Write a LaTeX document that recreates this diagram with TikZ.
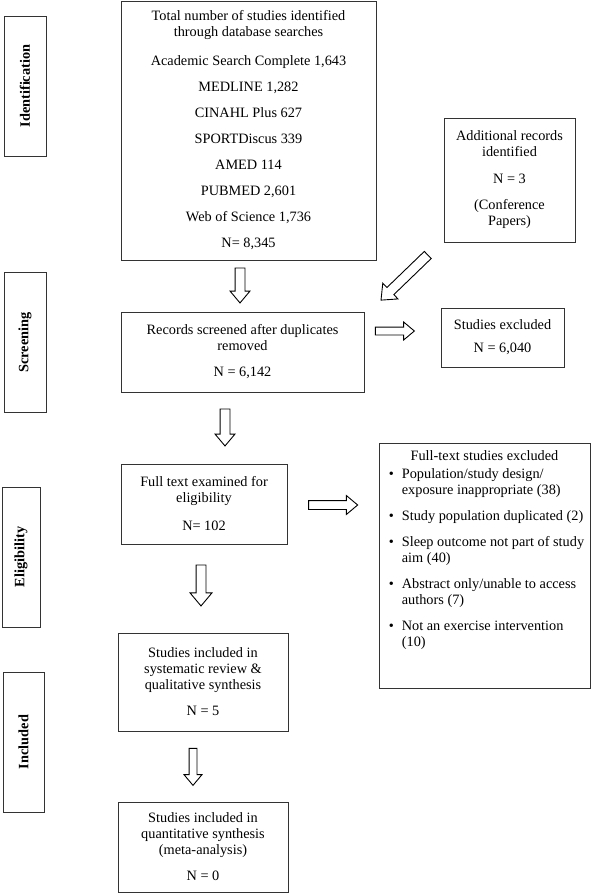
\documentclass[tikz,border=0pt]{standalone}
\usepackage{fontspec}
\setmainfont{Liberation Serif}
\usetikzlibrary{shapes.arrows}
\newcommand\pgap{\\[10pt]}
\newcommand\bul{\makebox[13pt][l]{\textbullet}}
\begin{document}
\begin{tikzpicture}[x=1pt,y=-1pt,
  box/.style={draw=black!80, line width=0.9pt, inner sep=0pt, align=center,
    font=\fontsize{14.3}{16}\selectfont},
  side/.style={draw=black!80, line width=0.9pt, inner sep=0pt, rotate=90,
    minimum width=140pt, font=\fontsize{14.3}{16}\selectfont\bfseries},
  blockarrow/.style={single arrow, draw=black, line width=0.9pt, fill=white,
    inner xsep=0pt, inner ysep=4.5pt, single arrow head extend=5pt,
    single arrow tip angle=80, single arrow head indent=0pt}
]
\useasboundingbox (0,0) rectangle (601,893);

% stage labels
\node[side, minimum height=42pt] (lid) at (25,86) {Identification};
\node[side, minimum height=42pt] (lsc) at (25,342.5) {Screening};
\node[side, minimum height=38pt] (lel) at (21,557) {Eligibility};
\node[side, minimum height=41pt] (lin) at (23.5,742) {Included};

% main boxes
\node[box, minimum width=255pt, minimum height=259pt] (id) at (248.5,130.5)
  {Total number of studies identified\\through database searches\\[13pt]
   Academic Search Complete 1,643\pgap
   MEDLINE 1,282\pgap
   CINAHL Plus 627\pgap
   SPORTDiscus 339\pgap
   AMED 114\pgap
   PUBMED 2,601\pgap
   Web of Science 1,736\pgap
   N= 8,345};

\node[box, minimum width=131pt, minimum height=124pt] (add) at (509.5,180)
  {Additional records\\identified\\[11pt] N = 3\\[10pt] (Conference\\Papers)};

\node[box, minimum width=243pt, minimum height=80pt] (scr) at (242.5,352)
  {Records screened after duplicates\\removed\pgap N = 6,142};

\node[box, minimum width=123pt, minimum height=59pt] (exc) at (502.5,337.5)
  {Studies excluded\\[7pt] N = 6,040};

\node[box, minimum width=166pt, minimum height=80pt] (ft) at (204,504)
  {Full text examined for\\eligibility\\[12pt] N= 102};

\node[box, minimum width=211pt, minimum height=245pt] (ftx) at (484.5,565.5)
  {\renewcommand\arraystretch{1}%
   \begin{tabular}{@{\hspace{4pt}}l@{}l@{}}
   \multicolumn{2}{c}{Full-text studies excluded}\\[2pt]
   \bul & Population/study design/\\
    & exposure inappropriate (38)\pgap
   \bul & Study population duplicated (2)\pgap
   \bul & Sleep outcome not part of study\\
    & aim (40)\pgap
   \bul & Abstract only/unable to access\\
    & authors (7)\pgap
   \bul & Not an exercise intervention\\
    & (10)\\[30pt]
   \end{tabular}};

\node[box, minimum width=170pt, minimum height=98pt] (inc) at (203,682)
  {Studies included in\\systematic review \&\\qualitative synthesis\pgap N = 5};

\node[box, minimum width=170pt, minimum height=90pt] (meta) at (203,847)
  {Studies included in\\quantitative synthesis\\(meta-analysis)\pgap N = 0};

% block arrows
\node[blockarrow, rotate=-90, minimum height=35pt] (a1) at (240,282.5) {};
\node[blockarrow, rotate=-90, minimum height=37pt] (a2) at (225,424.5) {};
\node[blockarrow, rotate=-90, minimum height=41pt, single arrow head extend=6pt] (a3) at (201,582.5) {};
\node[blockarrow, rotate=-90, minimum height=37pt, inner ysep=3.5pt] (a4) at (193,764.5) {};
\node[blockarrow, minimum height=39pt, inner ysep=3.5pt] (r1) at (392.5,331) {};
\node[blockarrow, minimum height=49pt, inner ysep=4pt] (r2) at (330.5,505) {};
\node[blockarrow, rotate=224, minimum height=65pt, single arrow head extend=6pt] (d1) at (406.5,275.5) {};
\end{tikzpicture}
\end{document}
